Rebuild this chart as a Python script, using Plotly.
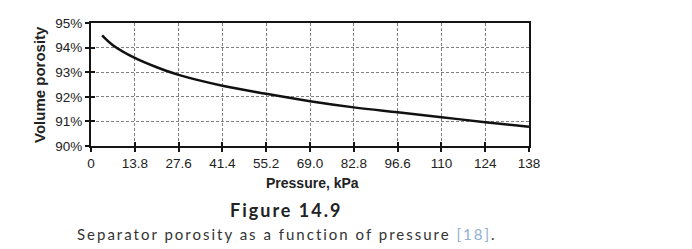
import plotly.graph_objects as go

pressure = [3.5, 6.9, 13.8, 20.7, 27.6, 41.4, 55.2, 69.0, 82.8, 96.6, 110.4, 124.2, 138.0]
porosity = [94.5, 94.1, 93.58, 93.2, 92.89, 92.45, 92.12, 91.82, 91.57, 91.37, 91.17, 90.97, 90.78]

x_ticks = [0, 13.8, 27.6, 41.4, 55.2, 69.0, 82.8, 96.6, 110.4, 124.2, 138.0]
x_tick_labels = ["0", "13.8", "27.6", "41.4", "55.2", "69.0", "82.8", "96.6", "110", "124", "138"]
y_ticks = [90, 91, 92, 93, 94, 95]
y_tick_labels = ["90%", "91%", "92%", "93%", "94%", "95%"]

W, H = 692, 249
L, R, T, B = 91, 529, 23, 146
AX = "#151515"
FONT = "Liberation Sans, Arial, sans-serif"

fig = go.Figure()
fig.add_trace(go.Scatter(x=pressure, y=porosity, mode="lines",
                         line=dict(color="#111111", width=2.5, shape="spline"),
                         showlegend=False, hoverinfo="skip"))

fig.update_layout(
    width=W, height=H,
    margin=dict(l=L, r=W - R, t=T, b=H - B),
    paper_bgcolor="white", plot_bgcolor="white",
    font=dict(family=FONT, color="#222222", size=13),
    xaxis2=dict(overlaying="x", range=[0, 138], tickvals=x_ticks, showticklabels=False,
                ticks="inside", ticklen=4, tickcolor=AX, tickwidth=1.5,
                showgrid=False, showline=False, zeroline=False, side="bottom"),
    yaxis2=dict(overlaying="y", range=[90, 95], tickvals=y_ticks, showticklabels=False,
                ticks="inside", ticklen=4, tickcolor=AX, tickwidth=1.5,
                showgrid=False, showline=False, zeroline=False, side="left"),
)
fig.layout.xaxis.update(range=[0, 138], tickvals=x_ticks, ticktext=x_tick_labels,
                        showline=True, linecolor=AX, linewidth=2, mirror=True,
                        ticks="outside", ticklen=4, tickcolor=AX, tickwidth=1.5,
                        showgrid=True, gridcolor="#808080", griddash="3px,2px", gridwidth=1,
                        tickfont=dict(size=13.5), zeroline=False)
fig.layout.yaxis.update(range=[90, 95], tickvals=y_ticks, ticktext=y_tick_labels,
                        showline=True, linecolor=AX, linewidth=2, mirror=True,
                        ticks="outside", ticklen=4, tickcolor=AX, tickwidth=1.5,
                        showgrid=True, gridcolor="#808080", griddash="3px,2px", gridwidth=1,
                        tickfont=dict(size=13.5), zeroline=False)
# invisible trace to bind the overlay axes
fig.add_trace(go.Scatter(x=[None], y=[None], xaxis="x2", yaxis="y2",
                         showlegend=False, hoverinfo="skip"))

def py(p):
    return (B - p) / (B - T)

def px(p):
    return (p - L) / (R - L)

common = dict(xref="paper", yref="paper", showarrow=False, yanchor="middle")
fig.add_annotation(text="<b>Volume porosity</b>", textangle=-90, x=px(39), y=py(85),
                   xanchor="center", font=dict(size=15, family=FONT, color="#222222"), **common)
fig.add_annotation(text="<b>Pressure, kPa</b>", x=px(312), y=py(183), xanchor="center",
                   font=dict(size=14, family=FONT, color="#222222"), **common)
fig.add_annotation(text="<span style='letter-spacing:2px'><b>Figure 14.9</b></span>",
                   x=px(286), y=py(210), xanchor="center",
                   font=dict(size=18, family="Lato, sans-serif", color="#222222"), **common)
fig.add_annotation(text="<span style='letter-spacing:2px'>Separator porosity as a function of pressure </span>"
                        "<span style='letter-spacing:2px;color:#8fb0d0'>[18]</span>"
                        "<span style='letter-spacing:2px'>.</span>",
                   x=px(75), y=py(234), xanchor="left",
                   font=dict(size=15, family="Lato, sans-serif", color="#333333"), **common)

fig.write_html("out.html")
